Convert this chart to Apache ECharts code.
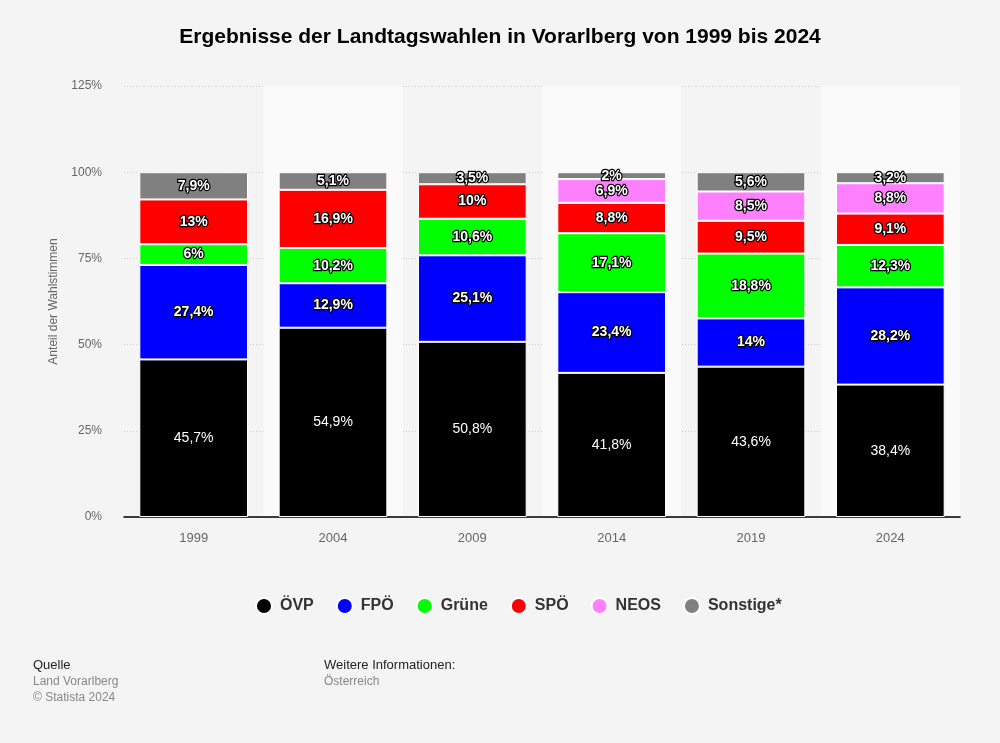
<!DOCTYPE html>
<html><head><meta charset="utf-8">
<script src="https://cdn.jsdelivr.net/npm/echarts@6/dist/echarts.min.js"></script>
<style>html,body{margin:0;padding:0;background:#f4f4f4;}#c{width:1000px;height:743px;}</style>
</head><body><div id="c"></div>
<script>
const years = ['1999','2004','2009','2014','2019','2024'];
const oevp = [45.7, 54.9, 50.8, 41.8, 43.6, 38.4];
const fpoe = [27.4, 12.9, 25.1, 23.4, 14, 28.2];
const gruene = [6, 10.2, 10.6, 17.1, 18.8, 12.3];
const spoe = [13, 16.9, 10, 8.8, 9.5, 9.1];
const neos = [null, null, null, 6.9, 8.5, 8.8];
const sonstige = [7.9, 5.1, 3.5, 2, 5.6, 3.2];
const yTicks = [0, 25, 50, 75, 100, 125];

const FONT = '"Liberation Sans", Arial, sans-serif';
const fmt = p => String(p.value).replace('.', ',') + '%';

function mk(name, data, color, outline) {
  return {
    name, type: 'bar', stack: 'total', data,
    barCategoryGap: '22%',
    itemStyle: { color, borderColor: '#ffffff', borderWidth: 1 },
    label: {
      show: true, position: 'inside', formatter: fmt,
      color: '#ffffff', fontFamily: FONT, fontSize: 14,
      fontWeight: outline ? 'bold' : 'normal',
      textBorderColor: outline ? '#000' : 'transparent',
      textBorderWidth: outline ? 2.5 : 0
    },
    emphasis: { disabled: true }
  };
}

const chart = echarts.init(document.getElementById('c'));
chart.setOption({
  backgroundColor: '#f4f4f4',
  animation: false,
  textStyle: { fontFamily: FONT },
  title: {
    text: 'Ergebnisse der Landtagswahlen in Vorarlberg von 1999 bis 2024',
    left: 'center', top: 22,
    textStyle: { fontFamily: FONT, fontSize: 21, fontWeight: 'bold', color: '#000' }
  },
  grid: { left: 124, right: 40, top: 86, bottom: 226 },
  legend: {
    top: 592, left: 250, icon: 'circle', itemWidth: 16, itemHeight: 16, itemGap: 22,
    textStyle: { fontFamily: FONT, fontSize: 16, fontWeight: 'bold', color: '#333', padding: [0, 0, 0, 3] },
    data: ['ÖVP', 'FPÖ', 'Grüne', 'SPÖ', 'NEOS', 'Sonstige*']
  },
  xAxis: {
    type: 'category', data: years,
    axisLine: { show: true, lineStyle: { color: '#000', width: 1.5 } },
    axisTick: { show: false },
    axisLabel: { color: '#666', fontSize: 13, margin: 15, fontFamily: FONT },
    splitArea: { show: true, areaStyle: { color: ['rgba(0,0,0,0)', '#fafafa'] } }
  },
  yAxis: {
    type: 'value', min: yTicks[0], max: yTicks[yTicks.length - 1], interval: 25,
    name: 'Anteil der Wahlstimmen', nameLocation: 'middle', nameGap: 64, nameRotate: 90,
    nameTextStyle: { color: '#666', fontSize: 12, fontFamily: FONT },
    axisLine: { show: false }, axisTick: { show: false },
    axisLabel: { color: '#666', fontSize: 12, margin: 22, formatter: v => v + '%', fontFamily: FONT },
    splitLine: { lineStyle: { color: '#cccccc', type: [1, 2] } }
  },
  series: [
    mk('ÖVP', oevp, '#000000', false),
    mk('FPÖ', fpoe, '#0000ff', true),
    mk('Grüne', gruene, '#00ff00', true),
    mk('SPÖ', spoe, '#ff0000', true),
    mk('NEOS', neos, '#ff80ff', true),
    mk('Sonstige*', sonstige, '#808080', true)
  ],
  graphic: [
    { type: 'text', left: 33, top: 659, style: { text: 'Quelle', fill: '#222', font: '13px ' + FONT } },
    { type: 'text', left: 33, top: 676, style: { text: 'Land Vorarlberg', fill: '#888', font: '12px ' + FONT } },
    { type: 'text', left: 33, top: 692, style: { text: '© Statista 2024', fill: '#888', font: '12px ' + FONT } },
    { type: 'text', left: 324, top: 659, style: { text: 'Weitere Informationen:', fill: '#222', font: '13px ' + FONT } },
    { type: 'text', left: 324, top: 676, style: { text: 'Österreich', fill: '#888', font: '12px ' + FONT } }
  ]
});
</script></body></html>
